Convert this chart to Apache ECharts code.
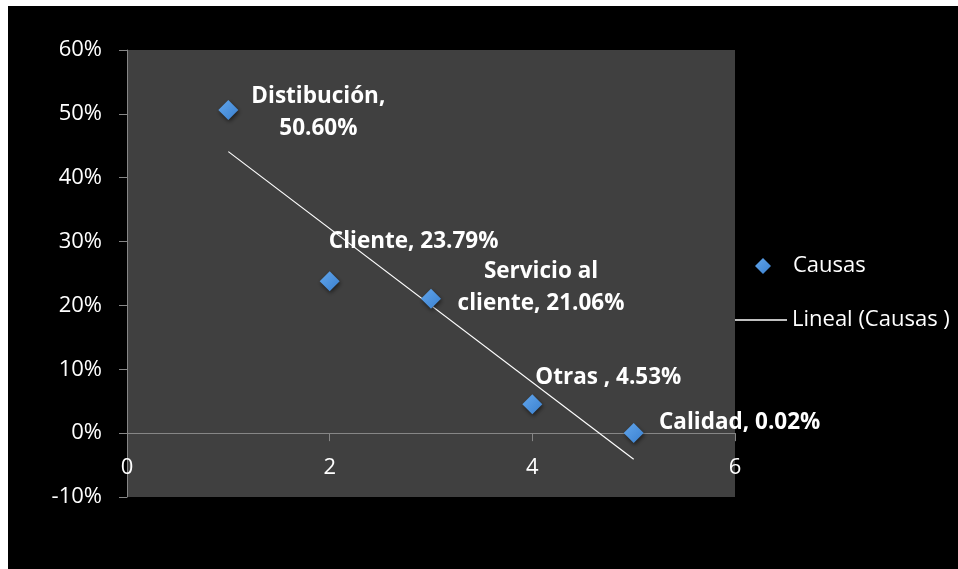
<!DOCTYPE html>
<html>
<head>
<meta charset="utf-8">
<script src="https://cdn.jsdelivr.net/npm/echarts@6/dist/echarts.min.js"></script>
<style>
  html, body { margin: 0; padding: 0; background: #ffffff; }
  #chart { position: absolute; left: 8px; top: 6px; width: 950px; height: 563px; background: #000000; }
</style>
</head>
<body>
<div id="chart"></div>
<script>
// Causes and their share (%), plotted by position 1..5
const causeNames = ['Distibución', 'Cliente', 'Servicio al\ncliente', 'Otras ', 'Calidad'];
const causeX = [1, 2, 3, 4, 5];
const causeShare = [50.60, 23.79, 21.06, 4.53, 0.02];

// Axis ranges and ticks
const xTicks = { min: 0, max: 6, step: 2 };
const yTicks = { min: -10, max: 60, step: 10 };

// Label placement relative to each marker centre (pixels)
const labelOffsets = [[90, 3], [84, -40], [110, -11], [76, -27], [106, -10]];

// Least-squares linear trend of the causes
function linearFit(xs, ys) {
  const n = xs.length;
  const mx = xs.reduce((a, b) => a + b, 0) / n;
  const my = ys.reduce((a, b) => a + b, 0) / n;
  let sxy = 0, sxx = 0;
  for (let i = 0; i < n; i++) { sxy += (xs[i] - mx) * (ys[i] - my); sxx += (xs[i] - mx) ** 2; }
  const slope = sxy / sxx;
  return { slope, intercept: my - slope * mx };
}
const fit = linearFit(causeX, causeShare);
const xFirst = causeX[0], xLast = causeX[causeX.length - 1];
const trend = [[xFirst, fit.intercept + fit.slope * xFirst], [xLast, fit.intercept + fit.slope * xLast]];

const FONT = '"Open Sans", "Noto Sans", sans-serif';
const SYM = 20;

const points = causeX.map((x, i) => ({
  value: [x, causeShare[i]],
  label: {
    position: [labelOffsets[i][0] + SYM / 2, labelOffsets[i][1] + SYM / 2],
    formatter: causeNames[i] + ', ' + causeShare[i].toFixed(2) + '%'
  }
}));
// the first label breaks after the comma
points[0].label.formatter = causeNames[0] + ',\n' + causeShare[0].toFixed(2) + '%';

const chart = echarts.init(document.getElementById('chart'), null, { renderer: 'canvas' });
chart.setOption({
  backgroundColor: '#000000',
  animation: false,
  textStyle: { fontFamily: FONT },
  grid: { left: 119, right: 223, top: 44, bottom: 72, show: true, backgroundColor: '#404040', borderWidth: 0 },
  xAxis: {
    type: 'value', min: xTicks.min, max: xTicks.max, interval: xTicks.step,
    axisLine: { show: true, onZero: true, lineStyle: { color: '#868686', width: 1 } },
    axisTick: { show: true, length: 8, lineStyle: { color: '#868686' } },
    splitLine: { show: false },
    axisLabel: { color: '#ffffff', fontSize: 22, fontFamily: FONT, margin: -40 }
  },
  yAxis: {
    type: 'value', min: yTicks.min, max: yTicks.max, interval: yTicks.step,
    axisLine: { show: true, onZero: false, lineStyle: { color: '#868686', width: 1 } },
    axisTick: { show: true, length: 8, lineStyle: { color: '#868686' } },
    splitLine: { show: false },
    axisLabel: { color: '#ffffff', fontSize: 22, fontFamily: FONT, margin: 25, formatter: v => v + '%' }
  },
  legend: [
    {
      data: [{ name: 'Causas', icon: 'diamond' }],
      orient: 'vertical', left: 742, top: 243,
      itemWidth: 16, itemHeight: 16,
      textStyle: { color: '#ffffff', fontSize: 22, fontFamily: FONT, lineHeight: 24, padding: [0, 0, 0, 17] }
    },
    {
      data: [{ name: 'Lineal (Causas )', icon: 'rect' }],
      orient: 'vertical', left: 722, top: 297,
      itemWidth: 52, itemHeight: 1.5,
      textStyle: { color: '#ffffff', fontSize: 22, fontFamily: FONT, lineHeight: 24 }
    }
  ],
  series: [
    {
      name: 'Causas',
      type: 'scatter',
      symbol: 'diamond',
      symbolSize: SYM,
      z: 3,
      itemStyle: {
        opacity: 1,
        color: new echarts.graphic.LinearGradient(0, 0, 1, 1, [
          { offset: 0, color: '#62a6ec' },
          { offset: 1, color: '#3a80cf' }
        ]),
        shadowBlur: 4, shadowOffsetX: 1, shadowOffsetY: 2, shadowColor: 'rgba(0,0,0,0.55)'
      },
      label: {
        show: true, color: '#ffffff', fontSize: 22.5, fontWeight: 'bold', fontFamily: FONT,
        align: 'center', verticalAlign: 'middle', lineHeight: 32,
        textBorderWidth: 0, textShadowBlur: 0
      },
      data: points
    },
    {
      name: 'Lineal (Causas )',
      type: 'line',
      data: trend,
      symbol: 'none',
      silent: true,
      z: 2,
      itemStyle: { color: '#ffffff' },
      lineStyle: { color: '#ffffff', width: 1.2 }
    }
  ]
});
</script>
</body>
</html>
